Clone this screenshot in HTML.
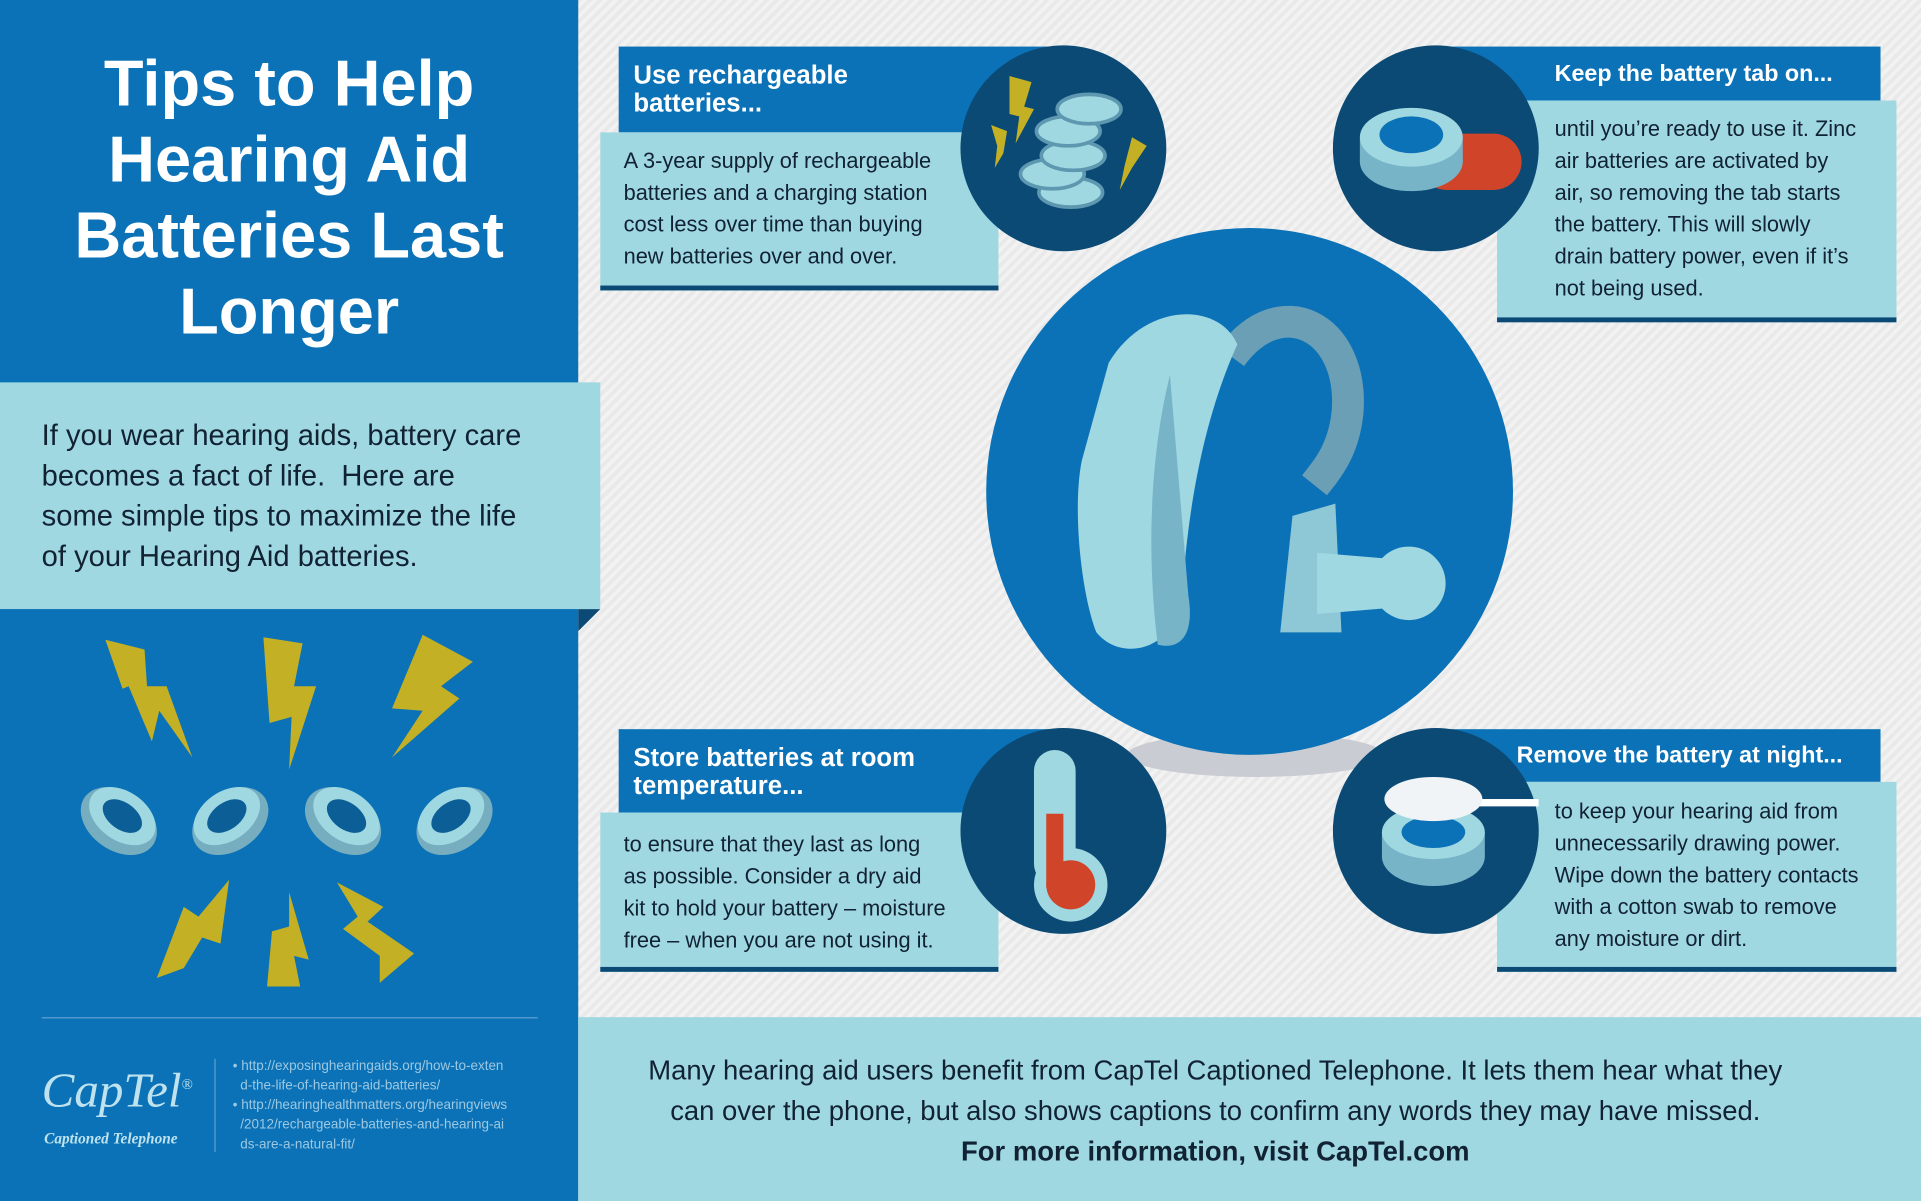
<!DOCTYPE html>
<html><head><meta charset="utf-8"><style>
html,body{margin:0;padding:0;width:1921px;height:1201px;overflow:hidden;background:#eee}
#w{position:absolute;left:0;top:0;width:1568px;height:980px;transform:scale(1.2251,1.2255);transform-origin:0 0;font-family:"Liberation Sans",sans-serif;
background:repeating-linear-gradient(135deg,#f2f2f2 0 3px,#e9e9e9 3px 6px)}
.a{position:absolute}
.hd{background:#0b72b7;color:#fff;font-weight:bold;font-size:21px;line-height:23px;box-sizing:border-box;padding:12px 12px}
.bd{background:#a0d8e2;color:#123;font-size:17.8px;line-height:26px;box-sizing:border-box;border-bottom:4px solid #0b4a75}
.c{position:absolute;border-radius:50%;background:#0b4a75}
</style></head><body><div id="w">
<div class="a" style="left:0;top:0;width:472px;height:980px;background:#0b72b7"></div>
<div class="a" style="left:0;top:38px;width:472px;text-align:center;color:#fff;font-weight:bold;font-size:53px;line-height:62px">Tips to Help<br>Hearing Aid<br>Batteries Last<br>Longer</div>
<div class="a" style="left:0;top:312px;width:490px;height:185px;background:#a0d8e2"></div>
<div class="a" style="left:472px;top:497px;width:0;height:0;border-left:18px solid #0b4a75;border-bottom:18px solid transparent"></div>
<div class="a" style="left:34px;top:339px;font-size:23.8px;line-height:33px;color:#123">If you wear hearing aids, battery care<br>becomes a fact of life.&nbsp; Here are<br>some simple tips to maximize the life<br>of your Hearing Aid batteries.</div>
<svg class="a" style="left:0;top:500px" width="472" height="320">
<g fill="#c3b024">
<polygon points="86,22 118,30 120,60 136,60 157,118 130,80 124,105 105,60 100,62"/>
<polygon points="215,20 247,25 240,60 258,60 236,128 238,85 220,90"/>
<polygon points="345,18 386,40 360,60 375,70 320,118 345,80 320,78"/>
<polygon points="128,298 150,240 162,248 187,218 180,270 165,265 150,290"/>
<polygon points="218,305 222,260 236,256 236,228 252,283 240,280 245,305"/>
<polygon points="275,220 313,240 300,252 338,278 310,302 310,280 280,258 292,248"/>
</g>
<g>
<g transform="translate(97,170) rotate(35)"><ellipse rx="34" ry="24" fill="#76aec0"/><ellipse rx="30" ry="20" cy="-5" fill="#a0d8e2"/><ellipse rx="18" ry="11" cy="-5" fill="#0b5e96"/></g>
<g transform="translate(188,170) rotate(-35)"><ellipse rx="34" ry="24" fill="#76aec0"/><ellipse rx="30" ry="20" cy="-5" fill="#a0d8e2"/><ellipse rx="18" ry="11" cy="-5" fill="#0b5e96"/></g>
<g transform="translate(280,170) rotate(35)"><ellipse rx="34" ry="24" fill="#76aec0"/><ellipse rx="30" ry="20" cy="-5" fill="#a0d8e2"/><ellipse rx="18" ry="11" cy="-5" fill="#0b5e96"/></g>
<g transform="translate(371,170) rotate(-35)"><ellipse rx="34" ry="24" fill="#76aec0"/><ellipse rx="30" ry="20" cy="-5" fill="#a0d8e2"/><ellipse rx="18" ry="11" cy="-5" fill="#0b5e96"/></g>
</g></svg>
<div class="a" style="left:34px;top:830px;width:405px;height:1px;background:#5fa0cf"></div>
<div class="a" style="left:34px;top:866px;color:#bfe3ee;font-family:'Liberation Serif',serif;font-style:italic;font-size:40px">CapTel<sup style="font-size:12px">®</sup></div>
<div class="a" style="left:36px;top:922px;color:#bfe3ee;font-family:'Liberation Serif',serif;font-style:italic;font-weight:bold;font-size:12.5px">Captioned Telephone</div>
<div class="a" style="left:175px;top:864px;width:1px;height:76px;background:#5fa0cf"></div>
<div class="a" style="left:190px;top:862px;color:#9cc8e2;font-size:11px;line-height:16px">• http://exposinghearingaids.org/how-to-exten<br>&nbsp;&nbsp;d-the-life-of-hearing-aid-batteries/<br>• http://hearinghealthmatters.org/hearingviews<br>&nbsp;&nbsp;/2012/rechargeable-batteries-and-hearing-ai<br>&nbsp;&nbsp;ds-are-a-natural-fit/</div>

<div class="a" style="left:472px;top:830px;width:1096px;height:150px;background:#a0d8e2"></div>
<div class="a" style="left:472px;top:857px;width:1040px;text-align:center;font-size:22.4px;line-height:33px;color:#123">Many hearing aid users benefit from CapTel Captioned Telephone. It lets them hear what they<br>can over the phone, but also shows captions to confirm any words they may have missed.<br><b>For more information, visit CapTel.com</b></div>

<div class="a" style="left:920px;top:598px;width:210px;height:36px;border-radius:50%;background:#c9cdd3"></div>
<div class="c" style="left:805px;top:186px;width:430px;height:430px;background:#0b72b7"></div>
<svg class="a" style="left:805px;top:186px" width="430" height="430">
<path d="M200,105 C240,50 300,80 295,150 C292,180 280,195 268,210" stroke="#6a9fb5" stroke-width="26" fill="none"/>
<path d="M100,110 C130,60 190,60 205,95 C180,150 165,220 160,300 C155,345 110,355 90,330 C78,300 70,230 78,190 Z" fill="#a0d8e2"/>
<path d="M150,120 C135,180 130,260 140,340 C160,345 170,330 165,300 C160,240 155,180 150,120 Z" fill="#78b4c8"/>
<path d="M250,235 L285,225 L290,330 L240,330 Z" fill="#8ec7d6"/>
<ellipse cx="345" cy="290" rx="30" ry="30" fill="#a0d8e2"/>
<path d="M270,265 L330,270 L330,310 L270,315 Z" fill="#a0d8e2"/>
</svg>

<div class="a hd" style="left:505px;top:38px;width:355px;height:70px">Use rechargeable<br>batteries...</div>
<div class="a bd" style="left:490px;top:108px;width:325px;height:129px;padding:10px 0 0 19px">A 3-year supply of rechargeable<br>batteries and a charging station<br>cost less over time than buying<br>new batteries over and over.</div>
<div class="c" style="left:784px;top:37px;width:168px;height:168px"></div>
<svg class="a" style="left:784px;top:37px" width="168" height="168"><g fill="#c3b024"><polygon points="40,25 58,30 52,50 60,52 45,80 48,58 40,56"/><polygon points="25,65 38,70 35,88 28,100 30,82"/><polygon points="140,75 152,82 140,100 130,118 134,98"/></g>
<g fill="#a0d8e2" stroke="#5d98b0" stroke-width="3"><ellipse cx="90" cy="120" rx="26" ry="12"/><ellipse cx="75" cy="105" rx="26" ry="12"/><ellipse cx="92" cy="90" rx="26" ry="12"/><ellipse cx="88" cy="70" rx="26" ry="12"/><ellipse cx="105" cy="52" rx="26" ry="12"/></g></svg>

<div class="a hd" style="left:1180px;top:38px;width:355px;height:44px;padding:11px 0 0 89px;font-size:19px">Keep the battery tab on...</div>
<div class="a bd" style="left:1222px;top:82px;width:326px;height:181px;padding:10px 0 0 47px">until you’re ready to use it. Zinc<br>air batteries are activated by<br>air, so removing the tab starts<br>the battery. This will slowly<br>drain battery power, even if it’s<br>not being used.</div>
<div class="c" style="left:1088px;top:37px;width:168px;height:168px"></div>
<svg class="a" style="left:1088px;top:37px" width="168" height="168"><rect x="70" y="72" width="84" height="46" rx="23" fill="#d0452a"/><ellipse cx="64" cy="95" rx="42" ry="24" fill="#78b4c8"/><rect x="22" y="75" width="84" height="20" fill="#78b4c8"/><ellipse cx="64" cy="75" rx="42" ry="24" fill="#a0d8e2"/><ellipse cx="64" cy="73" rx="26" ry="15" fill="#0b72b7"/></svg>

<div class="a hd" style="left:505px;top:595px;width:355px;height:68px">Store batteries at room<br>temperature...</div>
<div class="a bd" style="left:490px;top:663px;width:325px;height:130px;padding:13px 0 0 19px">to ensure that they last as long<br>as possible. Consider a dry aid<br>kit to hold your battery – moisture<br>free – when you are not using it.</div>
<div class="c" style="left:784px;top:594px;width:168px;height:168px"></div>
<svg class="a" style="left:784px;top:594px" width="168" height="168"><rect x="60" y="18" width="34" height="110" rx="17" fill="#a0d8e2"/><circle cx="90" cy="128" r="30" fill="#a0d8e2"/><rect x="70" y="70" width="14" height="60" fill="#d0452a"/><circle cx="90" cy="128" r="20" fill="#d0452a"/></svg>

<div class="a hd" style="left:1180px;top:595px;width:355px;height:43px;padding:10px 0 0 58px;font-size:19px">Remove the battery at night...</div>
<div class="a bd" style="left:1222px;top:638px;width:326px;height:155px;padding:11px 0 0 47px">to keep your hearing aid from<br>unnecessarily drawing power.<br>Wipe down the battery contacts<br>with a cotton swab to remove<br>any moisture or dirt.</div>
<div class="c" style="left:1088px;top:594px;width:168px;height:168px"></div>
<svg class="a" style="left:1088px;top:594px" width="168" height="168"><ellipse cx="82" cy="105" rx="42" ry="24" fill="#78b4c8"/><rect x="40" y="85" width="84" height="20" fill="#78b4c8"/><ellipse cx="82" cy="85" rx="42" ry="22" fill="#a0d8e2"/><ellipse cx="82" cy="85" rx="26" ry="13" fill="#0b72b7"/><rect x="110" y="58" width="58" height="6" fill="#fff"/><ellipse cx="82" cy="58" rx="40" ry="18" fill="#f0f4f6"/></svg>
</div></body></html>
